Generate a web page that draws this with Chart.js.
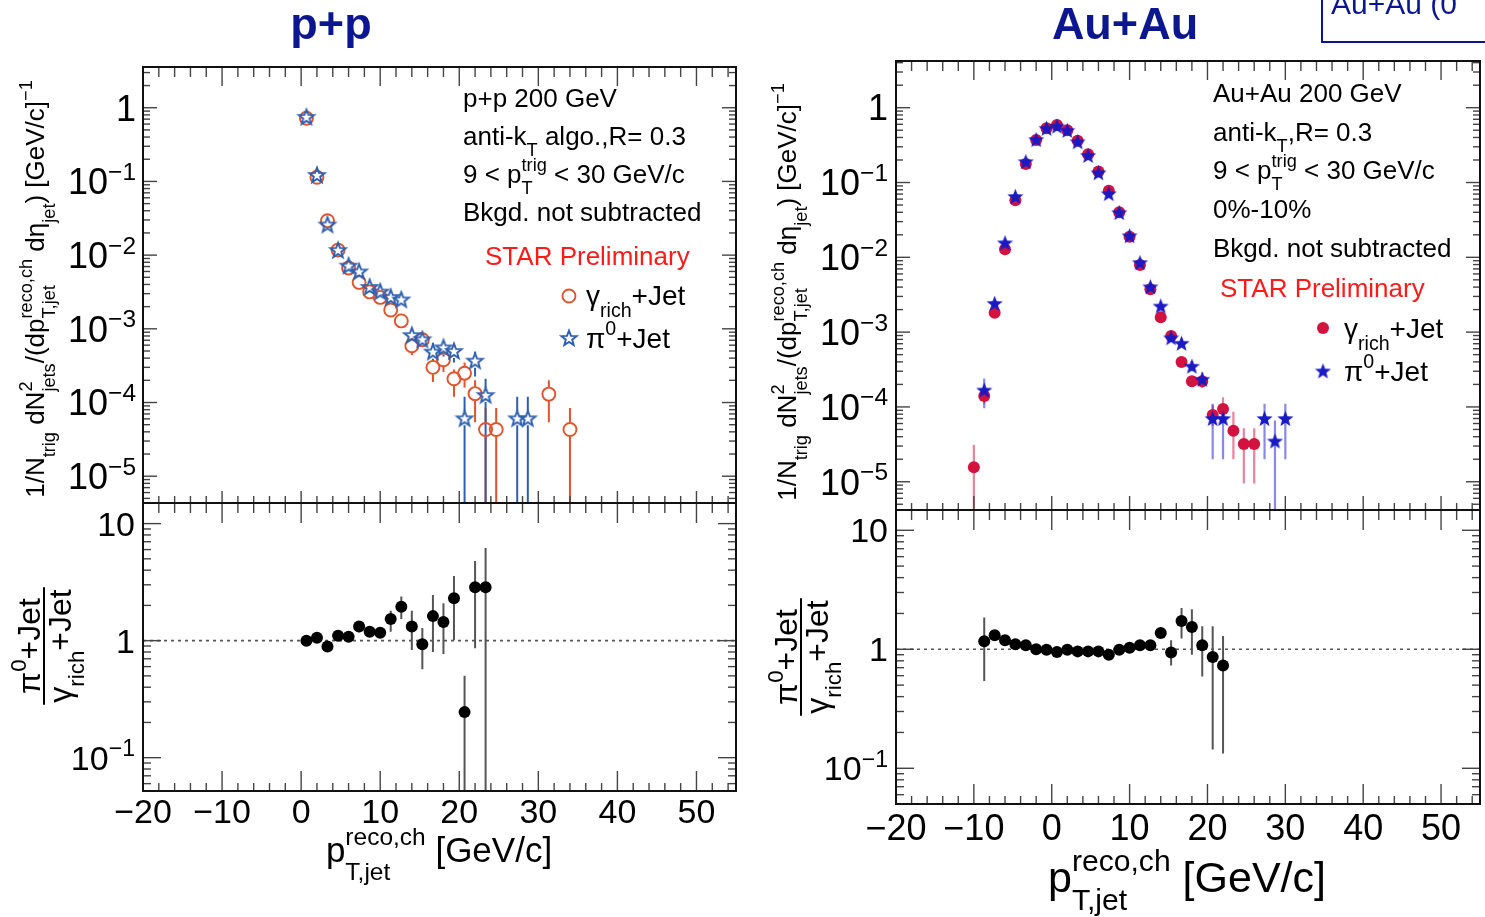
<!DOCTYPE html>
<html>
<head>
<meta charset="utf-8">
<script src="https://cdn.jsdelivr.net/npm/chart.js@4.4.1/dist/chart.umd.min.js"></script>
<style>
  html, body { margin: 0; padding: 0; background: #fff; }
  #page { position: relative; width: 1485px; height: 917px; overflow: hidden; }
  #page canvas { position: absolute; }
</style>
</head>
<body>
<div id="page">
  <canvas id="overlay" width="1485" height="917" style="left:0;top:0;z-index:5;pointer-events:none"></canvas>
</div>
<script>
const FONT = '"Liberation Sans", Arial, Helvetica, sans-serif';

// ---- p+p : bin centres and yields (1e-9 = error bar runs off the frame) ----
const ppBins = [0.67, 2, 3.33, 4.67, 6, 7.33, 8.67, 10, 11.33, 12.67, 14, 15.33, 16.67, 18, 19.33,
                20.67, 22, 23.33, 24.67, 26, 27.33, 28.67, 30, 31.33, 32.67, 34];
const ppGamma   = [0.72, 0.114, 0.0293, 0.0117, 0.0067, 0.00427, 0.00317, 0.00267, 0.0018, 0.00128, 5.9e-4, 7.1e-4, 3.0e-4, 3.8e-4, 2.1e-4,
                   2.5e-4, 1.32e-4, 4.3e-5, 4.3e-5, null, null, null, null, 1.3e-4, null, 4.3e-5];
const ppGammaLo = [0.70, 0.110, 0.0283, 0.0112, 0.0063, 0.0040, 0.0029, 0.0024, 0.00162, 0.00112, 4.4e-4, 6.0e-4, 1.9e-4, 2.6e-4, 1.2e-4,
                   1.6e-4, 5.4e-5, 1e-9, 1e-9, null, null, null, null, 5.4e-5, null, 1e-9];
const ppGammaHi = [0.74, 0.118, 0.0303, 0.0122, 0.0071, 0.0045, 0.0034, 0.0029, 0.0020, 0.00145, 7.0e-4, 8.3e-4, 3.9e-4, 4.65e-4, 2.8e-4,
                   3.5e-4, 2.0e-4, 8.4e-5, 8.4e-5, null, null, null, null, 2.0e-4, null, 8.4e-5];
const ppPi0     = [0.75, 0.122, 0.026, 0.0117, 0.0072, 0.0060, 0.0037, 0.0032, 0.0027, 0.0025, 8.2e-4, 7.2e-4, 4.9e-4, 5.6e-4, 5.0e-4,
                   6.1e-5, 3.7e-4, 1.26e-4, null, null, 6.1e-5, 6.1e-5, null, null, null, null];
const ppPi0Lo   = [0.73, 0.118, 0.025, 0.0112, 0.0068, 0.0056, 0.0034, 0.0029, 0.0024, 0.0022, 6.6e-4, 6.0e-4, 3.6e-4, 4.2e-4, 3.5e-4,
                   1e-9, 2.25e-4, 1e-9, null, null, 1e-9, 1e-9, null, null, null, null];
const ppPi0Hi   = [0.77, 0.126, 0.027, 0.0122, 0.0076, 0.0064, 0.0040, 0.0035, 0.0030, 0.0028, 1.0e-3, 8.6e-4, 6.4e-4, 6.7e-4, 6.3e-4,
                   1.2e-4, 4.9e-4, 2.1e-4, null, null, 1.2e-4, 1.2e-4, null, null, null, null];

// p+p ratio pi0+Jet / gamma_rich+Jet
const ppRatioBins = [0.67, 2, 3.33, 4.67, 6, 7.33, 8.67, 10, 11.33, 12.67, 14, 15.33, 16.67, 18, 19.33, 20.67, 22, 23.33];
const ppRatio   = [1.0, 1.06, 0.89, 1.10, 1.08, 1.32, 1.19, 1.17, 1.53, 1.95, 1.32, 0.93, 1.62, 1.44, 2.30, 0.245, 2.86, 2.86];
const ppRatioLo = [0.97, 1.03, 0.86, 1.06, 1.04, 1.18, 1.08, 1.08, 1.19, 1.53, 0.83, 0.57, 0.80, 0.77, 1.01, 1e-3, 0.86, 1e-3];
const ppRatioHi = [1.03, 1.09, 0.92, 1.14, 1.12, 1.45, 1.32, 1.26, 1.80, 2.38, 1.80, 1.28, 2.46, 2.09, 3.57, 0.50, 4.78, 6.2];

// ---- Au+Au 0-10% ----
const aaBins = [-10, -8.67, -7.33, -6, -4.67, -3.33, -2, -0.67, 0.67, 2, 3.33, 4.67, 6, 7.33, 8.67, 10, 11.33, 12.67, 14, 15.33,
                16.67, 18, 19.33, 20.67, 22, 23.33, 24.67, 26, 27.33, 28.67, 30];
const aaGamma   = [1.56e-5, 1.4e-4, 1.82e-3, 0.0128, 0.058, 0.177, 0.37, 0.53, 0.587, 0.50, 0.362, 0.238, 0.14, 0.0777, 0.040, 0.0188, 0.0079, 0.00373, 0.00158, 8.9e-4,
                   4.0e-4, 2.2e-4, 2.2e-4, 7.8e-5, 9.4e-5, 4.8e-5, 3.2e-5, 3.2e-5, null, null, null];
const aaGammaLo = [1e-9, 1.1e-4, 1.7e-3, 0.0123, 0.056, 0.171, 0.36, 0.515, 0.57, 0.485, 0.35, 0.23, 0.135, 0.075, 0.0386, 0.0181, 0.0076, 0.0036, 0.0015, 8.3e-4,
                   3.6e-4, 1.9e-4, 1.9e-4, 5.5e-5, 6.5e-5, 2.0e-5, 9.5e-6, 9.5e-6, null, null, null];
const aaGammaHi = [3.1e-5, 1.75e-4, 1.95e-3, 0.0133, 0.060, 0.183, 0.38, 0.545, 0.60, 0.515, 0.374, 0.246, 0.145, 0.080, 0.0414, 0.0195, 0.0082, 0.0039, 0.00166, 9.5e-4,
                   4.4e-4, 2.6e-4, 2.6e-4, 1.05e-4, 1.35e-4, 8.6e-5, 5.2e-5, 5.2e-5, null, null, null];
const aaPi0     = [null, 1.68e-4, 2.42e-3, 0.0156, 0.065, 0.19, 0.375, 0.53, 0.565, 0.497, 0.35, 0.23, 0.135, 0.071, 0.0396, 0.0194, 0.0085, 0.00403, 0.00223, 8.4e-4,
                   7.1e-4, 3.5e-4, 2.34e-4, 7.0e-5, 7.0e-5, null, null, null, 7.0e-5, 3.5e-5, 7.0e-5];
const aaPi0Lo   = [null, 9.6e-5, 2.25e-3, 0.0149, 0.062, 0.184, 0.36, 0.515, 0.545, 0.48, 0.338, 0.222, 0.130, 0.068, 0.0383, 0.0187, 0.0081, 0.0038, 0.0021, 7.6e-4,
                   6.3e-4, 3.0e-4, 1.8e-4, 2.0e-5, 2.0e-5, null, null, null, 2.0e-5, 1e-9, 2.0e-5];
const aaPi0Hi   = [null, 2.4e-4, 2.6e-3, 0.0163, 0.068, 0.196, 0.39, 0.545, 0.585, 0.514, 0.362, 0.238, 0.14, 0.074, 0.0409, 0.0201, 0.0089, 0.0043, 0.0024, 9.4e-4,
                   8.0e-4, 4.1e-4, 2.9e-4, 1.1e-4, 1.1e-4, null, null, null, 1.1e-4, 6.6e-5, 1.1e-4];

const aaRatioBins = [-8.67, -7.33, -6, -4.67, -3.33, -2, -0.67, 0.67, 2, 3.33, 4.67, 6, 7.33, 8.67, 10, 11.33, 12.67, 14, 15.33, 16.67, 18, 19.33, 20.67, 22];
const aaRatio   = [1.17, 1.31, 1.19, 1.10, 1.08, 1.0, 0.99, 0.95, 0.99, 0.96, 0.96, 0.96, 0.90, 0.99, 1.03, 1.08, 1.08, 1.37, 0.94, 1.73, 1.54, 1.08, 0.86, 0.73];
const aaRatioLo = [0.54, 1.22, 1.14, 1.07, 1.05, 0.98, 0.97, 0.93, 0.97, 0.94, 0.94, 0.94, 0.88, 0.96, 1.0, 1.04, 1.04, 1.25, 0.73, 1.23, 0.90, 0.59, 0.144, 0.133];
const aaRatioHi = [1.85, 1.40, 1.24, 1.13, 1.11, 1.02, 1.01, 0.97, 1.01, 0.98, 0.98, 0.98, 0.92, 1.02, 1.06, 1.12, 1.12, 1.50, 1.19, 2.22, 2.17, 1.56, 1.56, 1.29];

const xMin = -20, xMax = 55;
const xLabelValues = [-20, -10, 0, 10, 20, 30, 40, 50];

const PP_RED = "#e2532b", PP_BLUE = "#2d5fb0";
const AA_RED = "#d3123f", AA_BLUE = "#1a1ac4";
const NAVY = "#0c168f";

// zip bins + values + bounds, skipping empty bins
function points(xs, ys, lo, hi) {
  const out = [];
  xs.forEach((x, i) => {
    if (ys[i] == null) return;
    out.push({ x, y: ys[i], lo: lo[i], hi: hi[i] });
  });
  return out;
}

// 5-point ROOT-like star marker as an image
function starImage(r, color, filled, lw) {
  const s = Math.ceil(2 * r + 2 * lw + 4);
  const c = document.createElement("canvas");
  c.width = c.height = s;
  const g = c.getContext("2d");
  g.translate(s / 2, s / 2 + r * 0.08);
  g.beginPath();
  for (let k = 0; k < 10; k++) {
    const rr = k % 2 ? r * 0.42 : r;
    const a = -Math.PI / 2 + k * Math.PI / 5;
    const px = rr * Math.cos(a), py = rr * Math.sin(a);
    k ? g.lineTo(px, py) : g.moveTo(px, py);
  }
  g.closePath();
  g.lineJoin = "miter";
  if (filled) { g.fillStyle = color; g.fill(); }
  else { g.strokeStyle = color; g.lineWidth = lw; g.stroke(); }
  return c;
}

const errorBars = {
  id: "errorBars",
  beforeDatasetsDraw(chart) {
    const { ctx, chartArea: a, scales: { y } } = chart;
    ctx.save();
    ctx.beginPath();
    ctx.rect(a.left, a.top, a.right - a.left, a.bottom - a.top);
    ctx.clip();
    chart.data.datasets.forEach((ds, i) => {
      if (!ds.errColor) return;
      const meta = chart.getDatasetMeta(i);
      ctx.strokeStyle = ds.errColor;
      ctx.lineWidth = ds.errWidth || 2;
      meta.data.forEach((pt, j) => {
        const d = ds.data[j];
        if (d.lo == null) return;
        const yLo = Math.min(y.getPixelForValue(d.lo), a.bottom + 5);
        const yHi = y.getPixelForValue(d.hi);
        const gap = ds.errGap || 0;
        ctx.beginPath();
        if (pt.y - gap > yHi) { ctx.moveTo(pt.x, yHi); ctx.lineTo(pt.x, pt.y - gap); }
        if (yLo > pt.y + gap) { ctx.moveTo(pt.x, pt.y + gap); ctx.lineTo(pt.x, yLo); }
        ctx.stroke();
      });
    });
    ctx.restore();
  }
};

// ROOT style frame, inward ticks on all sides, tick labels
const rootAxes = {
  id: "rootAxes",
  afterDatasetsDraw(chart, args, o) {
    const { ctx, chartArea: a, scales: { x, y } } = chart;
    ctx.save();
    ctx.strokeStyle = "#444";
    ctx.lineWidth = 1.4;
    const seg = (x1, y1, x2, y2) => { ctx.beginPath(); ctx.moveTo(x1, y1); ctx.lineTo(x2, y2); ctx.stroke(); };
    for (let v = xMin; v <= xMax; v += 2) {
      const px = x.getPixelForValue(v);
      if (px <= a.left + 1 || px >= a.right - 1) continue;
      const major = v % 10 === 0;
      seg(px, a.top, px, a.top + (major ? o.xTop[0] : o.xTop[1]));
      seg(px, a.bottom, px, a.bottom - (major ? o.xBot[0] : o.xBot[1]));
    }
    const e0 = Math.floor(Math.log10(y.min)), e1 = Math.ceil(Math.log10(y.max));
    for (let e = e0; e <= e1; e++) {
      for (let m = 1; m <= 9; m++) {
        const v = m * Math.pow(10, e);
        if (v < y.min || v > y.max) continue;
        const py = y.getPixelForValue(v);
        const len = m === 1 ? o.yLen[0] : o.yLen[1];
        seg(a.left, py, a.left + len, py);
        seg(a.right, py, a.right - len, py);
      }
    }
    ctx.strokeStyle = "#111";
    ctx.lineWidth = 2;
    ctx.strokeRect(a.left, a.top, a.right - a.left, a.bottom - a.top);

    ctx.fillStyle = "#000";
    ctx.textBaseline = "alphabetic";
    // y labels: powers of ten
    for (let e = e0; e <= e1; e++) {
      const v = Math.pow(10, e);
      if (v < y.min || v > y.max) continue;
      const py = y.getPixelForValue(v);
      const F = o.yFont;
      const base = e === 0 ? "1" : "10";
      const sup = e < 0 ? "\u2212" + (-e) : "";
      ctx.font = `${F}px ${FONT}`;
      const wb = ctx.measureText(base).width;
      ctx.font = `${F * 0.68}px ${FONT}`;
      const ws = sup ? ctx.measureText(sup).width : 0;
      const x0 = a.left - o.yPad - wb - ws;
      const bl = py + 0.355 * F;
      ctx.textAlign = "left";
      ctx.font = `${F}px ${FONT}`;
      ctx.fillText(base, x0, bl);
      if (sup) {
        ctx.font = `${F * 0.68}px ${FONT}`;
        ctx.fillText(sup, x0 + wb, bl - 0.4 * F);
      }
    }
    if (o.xFont) {
      ctx.font = `${o.xFont}px ${FONT}`;
      ctx.textAlign = "center";
      xLabelValues.forEach(v => {
        const txt = v < 0 ? "\u2212" + (-v) : String(v);
        ctx.fillText(txt, x.getPixelForValue(v), a.bottom + o.xPad);
      });
    }
    ctx.restore();
  }
};

const page = document.getElementById("page");

function makePanel(frame, m, yMin, yMax, datasets, axisOpts) {
  const cv = document.createElement("canvas");
  const w = frame.r - frame.l + m.l + m.r, h = frame.b - frame.t + m.t + m.b;
  cv.width = w; cv.height = h;
  cv.style.width = w + "px"; cv.style.height = h + "px";
  cv.style.left = (frame.l - m.l) + "px";
  cv.style.top = (frame.t - m.t) + "px";
  page.appendChild(cv);
  return new Chart(cv, {
    type: "scatter",
    data: { datasets },
    options: {
      responsive: false,
      animation: false,
      events: [],
      layout: { autoPadding: false, padding: { left: m.l, right: m.r, top: m.t, bottom: m.b } },
      scales: {
        x: { type: "linear", min: xMin, max: xMax, display: false },
        y: { type: "logarithmic", min: yMin, max: yMax, display: false }
      },
      plugins: { legend: { display: false }, tooltip: { enabled: false }, rootAxes: axisOpts }
    },
    plugins: [errorBars, rootAxes]
  });
}

function unityLine() {
  return {
    data: [{ x: xMin, y: 1 }, { x: xMax, y: 1 }],
    showLine: true, borderColor: "#555", borderWidth: 1.6, borderDash: [3, 4],
    pointRadius: 0, order: 10
  };
}

const ppStar = starImage(8, PP_BLUE, false, 1.9);
const aaStar = starImage(8.5, AA_BLUE, true, 0);

// p+p spectra
makePanel({ l: 143, t: 67, r: 736, b: 503 }, { l: 90, t: 6, r: 8, b: 4 }, 4.33e-6, 3.57, [
  { data: points(ppBins, ppGamma, ppGammaLo, ppGammaHi), pointStyle: "circle", pointRadius: 6.5,
    borderColor: PP_RED, backgroundColor: "rgba(0,0,0,0)", borderWidth: 1.9,
    errColor: PP_RED, errWidth: 2, errGap: 7, order: 2 },
  { data: points(ppBins, ppPi0, ppPi0Lo, ppPi0Hi), pointStyle: ppStar,
    errColor: PP_BLUE, errWidth: 2, errGap: 7, order: 1 }
], { xTop: [19, 10], xBot: [12, 7], yLen: [14, 7], yFont: 36, yPad: 7 });

// p+p ratio
makePanel({ l: 143, t: 503, r: 736, b: 791 }, { l: 90, t: 4, r: 8, b: 45 }, 0.0519, 15.0, [
  unityLine(),
  { data: points(ppRatioBins, ppRatio, ppRatioLo, ppRatioHi), pointStyle: "circle", pointRadius: 6,
    backgroundColor: "#000", borderColor: "#000", borderWidth: 0,
    errColor: "#555", errWidth: 2, order: 1 }
], { xTop: [20, 10], xBot: [20, 8], yLen: [18, 8], yFont: 34, yPad: 8, xFont: 34, xPad: 32 });

// Au+Au spectra
makePanel({ l: 896, t: 61, r: 1480, b: 510 }, { l: 90, t: 6, r: 5, b: 4 }, 4.19e-6, 4.21, [
  { data: points(aaBins, aaGamma, aaGammaLo, aaGammaHi), pointStyle: "circle", pointRadius: 6,
    backgroundColor: AA_RED, borderColor: AA_RED, borderWidth: 0,
    errColor: "rgba(214,30,70,0.55)", errWidth: 2.2, order: 2 },
  { data: points(aaBins, aaPi0, aaPi0Lo, aaPi0Hi), pointStyle: aaStar,
    errColor: "rgba(40,40,210,0.55)", errWidth: 2.2, order: 1 }
], { xTop: [19, 10], xBot: [14, 7], yLen: [14, 7], yFont: 36, yPad: 8 });

// Au+Au ratio
makePanel({ l: 896, t: 510, r: 1480, b: 804 }, { l: 90, t: 4, r: 5, b: 50 }, 0.0501, 14.8, [
  unityLine(),
  { data: points(aaRatioBins, aaRatio, aaRatioLo, aaRatioHi), pointStyle: "circle", pointRadius: 6,
    backgroundColor: "#000", borderColor: "#000", borderWidth: 0,
    errColor: "#555", errWidth: 2, order: 1 }
], { xTop: [20, 10], xBot: [20, 8], yLen: [18, 8], yFont: 34, yPad: 8, xFont: 36, xPad: 36 });

// ---- text overlay ----
const ov = document.getElementById("overlay").getContext("2d");

// parts: plain strings, or {sup, sub} drawn stacked
function richWidth(parts, size) {
  let w = 0;
  parts.forEach(p => {
    if (typeof p === "string") { ov.font = `${size}px ${FONT}`; w += ov.measureText(p).width; }
    else {
      ov.font = `${size * 0.7}px ${FONT}`;
      w += Math.max(p.sup ? ov.measureText(p.sup).width : 0, p.sub ? ov.measureText(p.sub).width : 0);
    }
  });
  return w;
}

function drawRich(parts, x, y, size, align, color, supK = 0.45, subK = 0.42) {
  const w = richWidth(parts, size);
  let cx = align === "center" ? x - w / 2 : align === "right" ? x - w : x;
  ov.fillStyle = color || "#000";
  ov.textAlign = "left";
  ov.textBaseline = "alphabetic";
  parts.forEach(p => {
    if (typeof p === "string") {
      ov.font = `${size}px ${FONT}`;
      ov.fillText(p, cx, y);
      cx += ov.measureText(p).width;
    } else {
      ov.font = `${size * 0.7}px ${FONT}`;
      let adv = 0;
      if (p.sup) { ov.fillText(p.sup, cx, y - size * supK); adv = Math.max(adv, ov.measureText(p.sup).width); }
      if (p.sub) { ov.fillText(p.sub, cx, y + size * subK); adv = Math.max(adv, ov.measureText(p.sub).width); }
      cx += adv;
    }
  });
  return w;
}

function rotated(x, y, fn) {
  ov.save();
  ov.translate(x, y);
  ov.rotate(-Math.PI / 2);
  fn();
  ov.restore();
}

const yTitle = ["1/N", { sub: "trig" }, " dN", { sup: "2", sub: "jets" }, "/(dp", { sup: "reco,ch", sub: "T,jet" },
                " d\u03B7", { sub: "jet" }, ") [GeV/c]", { sup: "\u22121" }];
const num = ["\u03C0", { sup: "0" }, "+Jet"];
const den = ["\u03B3", { sub: "rich" }, "+Jet"];
const xTitle = ["p", { sup: "reco,ch", sub: "T,jet" }, " [GeV/c]"];

function fraction(x, y, size) {
  rotated(x, y, () => {
    const w = Math.max(richWidth(num, size), richWidth(den, size));
    drawRich(num, 0, -4, size, "center");
    ov.strokeStyle = "#000";
    ov.lineWidth = 2;
    ov.beginPath(); ov.moveTo(-w / 2 - 2, 0); ov.lineTo(w / 2 + 2, 0); ov.stroke();
    drawRich(den, 0, size * 0.84, size, "center");
  });
}

// titles
ov.font = `bold 45px ${FONT}`;
ov.fillStyle = NAVY;
ov.textAlign = "center";
ov.fillText("p+p", 331, 39);
ov.fillText("Au+Au", 1125, 39);

// top-right cut-off box
ov.strokeStyle = NAVY;
ov.lineWidth = 2;
ov.strokeRect(1322, -10, 200, 52);
ov.font = `30px ${FONT}`;
ov.textAlign = "left";
ov.fillText("Au+Au (0", 1331, 14);

// axis titles
rotated(44, 289, () => drawRich(yTitle, 0, 0, 26, "center"));
rotated(796, 292, () => drawRich(yTitle, 0, 0, 26, "center"));
fraction(44, 646, 32);
fraction(801, 657, 32);
drawRich(xTitle, 439, 862, 35, "center", "#000", 0.5, 0.52);
drawRich(xTitle, 1187, 892, 43, "center", "#000", 0.48, 0.42);

// p+p annotations
drawRich(["p+p 200 GeV"], 463, 107, 26);
drawRich(["anti-k", { sub: "T" }, " algo.,R= 0.3"], 463, 145, 26);
drawRich(["9 < p", { sup: "trig", sub: "T" }, " < 30 GeV/c"], 463, 183, 26);
drawRich(["Bkgd. not subtracted"], 463, 221, 26);
drawRich(["STAR Preliminary"], 485, 265, 26, "left", "#ff1a1a");
ov.strokeStyle = PP_RED; ov.lineWidth = 1.9;
ov.beginPath(); ov.arc(569, 296, 6.5, 0, Math.PI * 2); ov.stroke();
ov.drawImage(ppStar, 569 - ppStar.width / 2, 338 - ppStar.height / 2);
drawRich(den, 586, 305, 28);
drawRich(num, 586, 348, 28);

// Au+Au annotations
drawRich(["Au+Au 200 GeV"], 1213, 102, 26);
drawRich(["anti-k", { sub: "T" }, ",R= 0.3"], 1213, 141, 26);
drawRich(["9 < p", { sup: "trig", sub: "T" }, " < 30 GeV/c"], 1213, 179, 26);
drawRich(["0%-10%"], 1213, 218, 26);
drawRich(["Bkgd. not subtracted"], 1213, 257, 26);
drawRich(["STAR Preliminary"], 1220, 297, 26, "left", "#ff1a1a");
ov.fillStyle = AA_RED;
ov.beginPath(); ov.arc(1323, 328, 6, 0, Math.PI * 2); ov.fill();
ov.drawImage(aaStar, 1323 - aaStar.width / 2, 371 - aaStar.height / 2);
drawRich(den, 1344, 338, 28);
drawRich(num, 1344, 381, 28);
</script>
</body>
</html>
